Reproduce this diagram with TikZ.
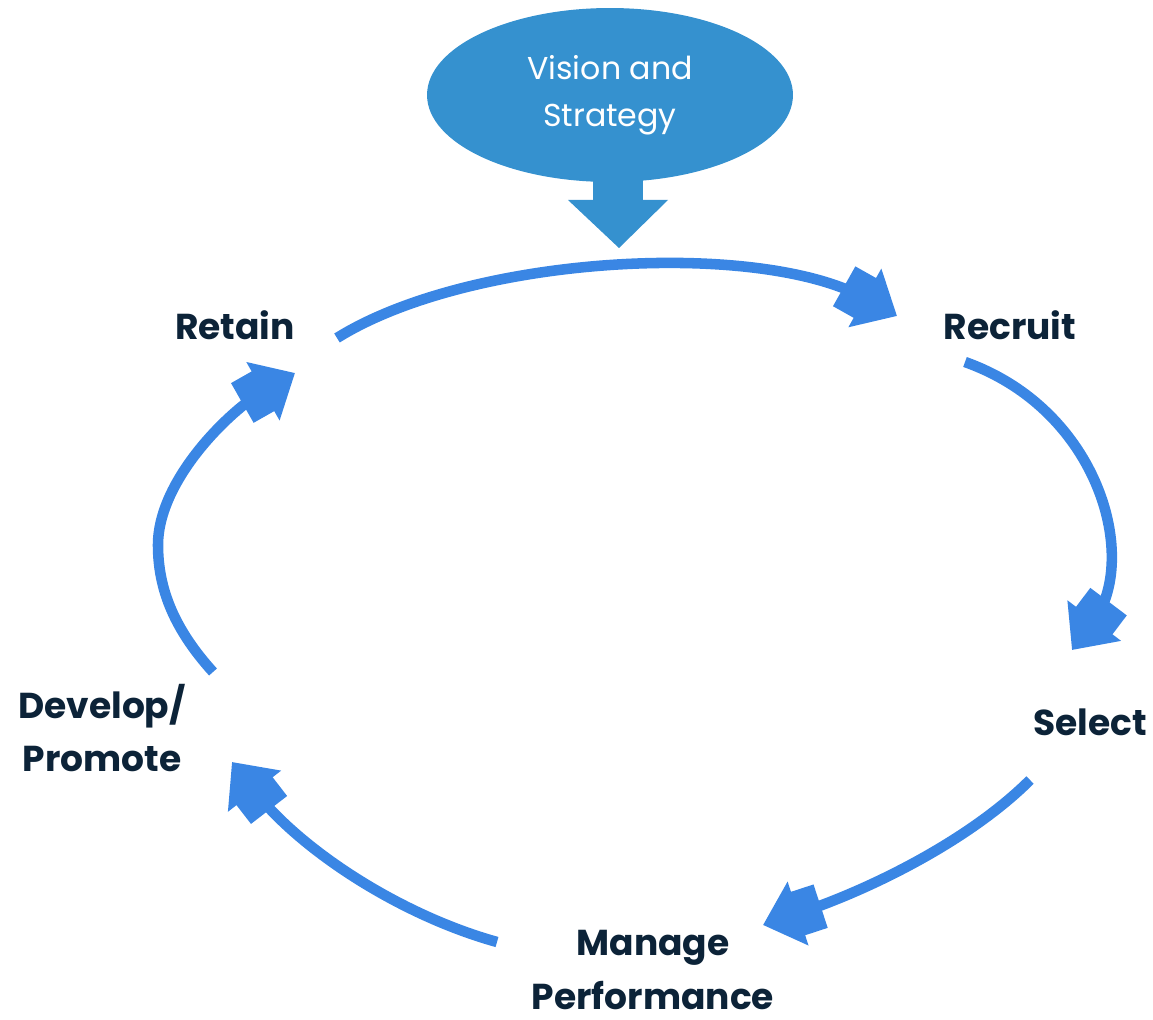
\documentclass[tikz,border=0pt]{standalone}
\usepackage{fontspec}
\setmainfont{Poppins}
\usetikzlibrary{arrows.meta,shapes.geometric}
\definecolor{visblue}{RGB}{53,145,207}
\definecolor{flowblue}{RGB}{58,134,228}
\definecolor{navy}{RGB}{12,35,56}
\tikzset{
  stage/.style={text=navy, font=\fontsize{20.5}{30.5}\selectfont\bfseries, align=center, inner sep=0pt},
  flow/.style={draw=flowblue, line width=6pt,
    -{Rectangle[length=14pt,width=26pt,sep=-0.5pt]Triangle[length=21pt,width=37pt]}},
}
\begin{document}
\begin{tikzpicture}[x=0.02cm,y=-0.02cm]
\useasboundingbox (0,0) rectangle (1153,1020);
% vision ellipse with down arrow
\fill[visblue] (593,150) rectangle (643,201);
\fill[visblue] (568,200) -- (668,200) -- (619,248) -- cycle;
\node[ellipse, fill=visblue, minimum width=7.32cm, minimum height=3.48cm, inner sep=0pt,
      text=white, align=center, font=\fontsize{18}{26.6}\selectfont] (vs) at (610,95) {Vision and\\Strategy};
% stage labels
\node[stage, anchor=base] (retain) at (235,340) {Retain};
\node[stage, anchor=base] (recruit) at (1010,340) {Recruit};
\node[stage, anchor=base] (select) at (1090,735) {Select};
\node[stage] (develop) at (102,728) {Develop/\\Promote};
\node[stage] (manage) at (653,970) {Manage\\Performance};
% connector end points
\coordinate (a1s) at (337,338); \coordinate (a1e) at (897,316);
\coordinate (a2s) at (965,362); \coordinate (a2e) at (1072,650);
\coordinate (a3s) at (1030,780); \coordinate (a3e) at (763,925);
\coordinate (a4s) at (497,942); \coordinate (a4e) at (232,762);
\coordinate (a5s) at (213,672); \coordinate (a5m) at (158,545); \coordinate (a5e) at (295,373);
% connectors
\draw[flow] (a1s) .. controls (470,255) and (760,239) .. (a1e);
\draw[flow] (a2s) .. controls (1100,410) and (1140,560) .. (a2e);
\draw[flow] (a3s) .. controls (970,840) and (870,890) .. (a3e);
\draw[flow] (a4s) .. controls (400,915) and (300,850) .. (a4e);
\draw[flow] (a5s) .. controls (175,630) and (158,590) .. (a5m)
                  .. controls (158,480) and (230,410) .. (a5e);
\end{tikzpicture}
\end{document}
